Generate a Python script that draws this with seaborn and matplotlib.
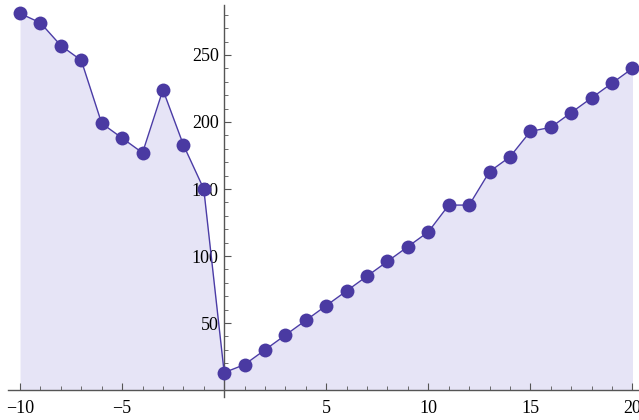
import matplotlib
matplotlib.use("Agg")
import matplotlib.pyplot as plt
import seaborn as sns
import numpy as np
import pandas as pd
from matplotlib.ticker import MultipleLocator, FixedLocator, FuncFormatter

x_values = list(range(-10, 21))
y_values = [281, 274, 257, 246, 199, 188, 177, 224, 183, 150,
            13, 19, 30, 41, 52, 63, 74, 85, 96, 107,
            118, 138, 138, 163, 174, 193, 196, 207, 218, 229, 240]
x_major_ticks = [-10, -5, 5, 10, 15, 20]
y_major_ticks = [50, 100, 150, 200, 250]

sns.set_theme(style="white")
plt.rcParams['font.family'] = ['Liberation Serif', 'DejaVu Serif']
plt.rcParams['axes.unicode_minus'] = True

W, H = 639, 420
fig = plt.figure(figsize=(W / 100, H / 100), dpi=100)
# axes region in pixels: left 8, right 639, top 5, bottom 397
ax = fig.add_axes([8 / W, (H - 397) / H, (639 - 8) / W, (397 - 5) / H])
ax.set_facecolor('none')
ax.set_axisbelow(False)

df = pd.DataFrame({'x': x_values, 'y': y_values})

line_color = '#4B3CA6'
fill_color = '#E6E4F6'

ax.fill_between(df['x'], 0, df['y'], color=fill_color, linewidth=0, zorder=1)
sns.lineplot(data=df, x='x', y='y', ax=ax, color=line_color, linewidth=1.0,
             marker='o', markersize=10, markeredgewidth=0,
             markerfacecolor='#4A3AA2', zorder=3)

ax.set_xlim(-10.59, 20.32)
ax.set_ylim(-5.2, 287.3)

for s in ['top', 'right']:
    ax.spines[s].set_visible(False)
ax.spines['left'].set_position(('data', 0))
ax.spines['bottom'].set_position(('data', 0))
for s in ['left', 'bottom']:
    ax.spines[s].set_color('#555555')
    ax.spines[s].set_linewidth(1.0)
    ax.spines[s].set_zorder(2)

ax.xaxis.set_major_locator(FixedLocator(x_major_ticks))
ax.xaxis.set_minor_locator(MultipleLocator(1))
ax.yaxis.set_major_locator(FixedLocator(y_major_ticks))
ax.yaxis.set_minor_locator(MultipleLocator(10))

fmt = FuncFormatter(lambda v, p: f"{int(v)}".replace('-', '\u2212'))
ax.xaxis.set_major_formatter(fmt)
ax.yaxis.set_major_formatter(fmt)

ax.tick_params(axis='x', which='major', direction='in', length=5, width=0.8,
               color='#555555', labelsize=13, labelcolor='black', pad=7, bottom=True)
ax.tick_params(axis='x', which='minor', direction='in', length=3, width=0.6,
               color='#555555', bottom=True)
ax.tick_params(axis='y', which='major', direction='in', length=5, width=0.8,
               color='#555555', labelsize=13, labelcolor='black', pad=4, left=True)
ax.tick_params(axis='y', which='minor', direction='in', length=3, width=0.6,
               color='#555555', left=True)
ax.set_xlabel('')
ax.set_ylabel('')
ax.grid(False)

fig.savefig('out.png', dpi=100)
